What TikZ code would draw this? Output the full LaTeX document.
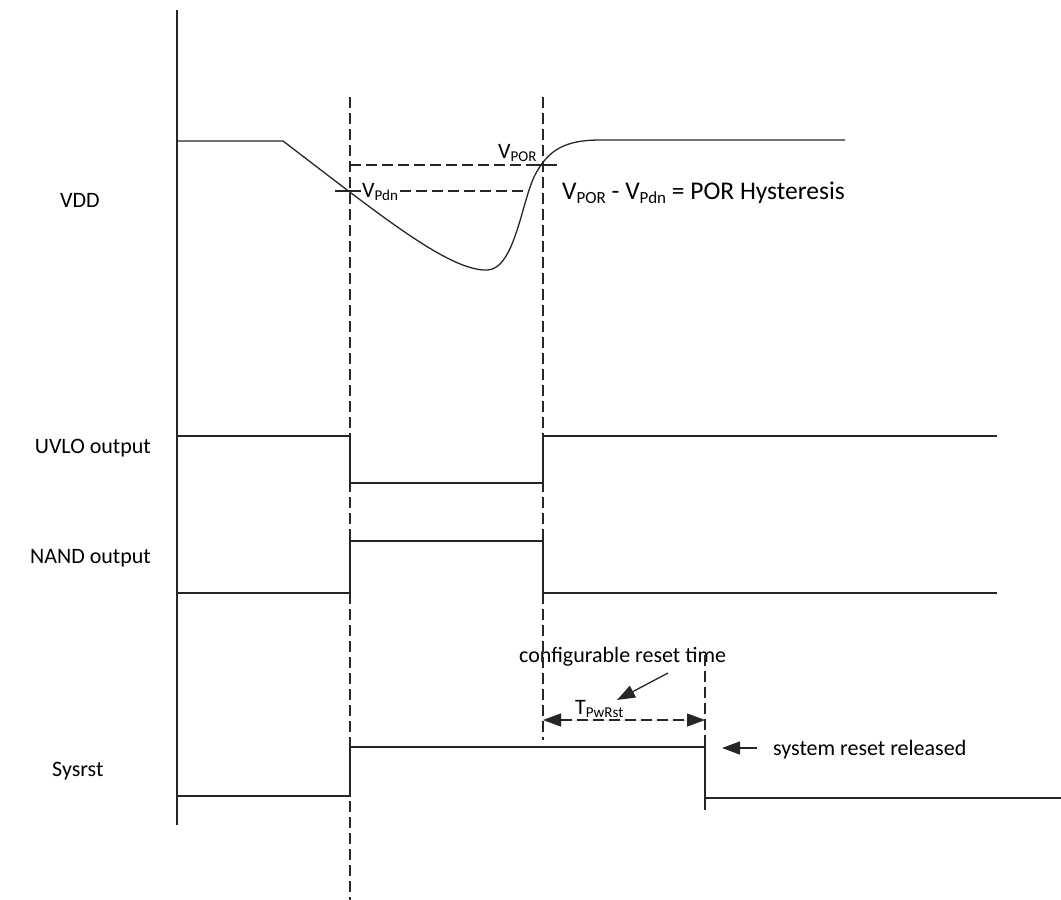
\documentclass[tikz,border=0pt]{standalone}
\usepackage{fontspec}
\setmainfont{Carlito}
\usetikzlibrary{arrows.meta}
\newcommand{\mysub}[1]{\raisebox{-0.35ex}{\fontsize{15}{15}\selectfont #1}}
\newcommand{\mysubb}[1]{\raisebox{-0.35ex}{\fontsize{17}{17}\selectfont #1}}
\begin{document}
\begin{tikzpicture}[x=1pt,y=-1pt,
  wave/.style={line width=1.3pt, draw=black!85},
  guide/.style={line width=1.3pt, dash pattern=on 11pt off 5pt, draw=black!85},
  lbl/.style={font=\fontsize{22}{26}\selectfont, inner sep=0pt},
  big/.style={font=\fontsize{25.5}{30}\selectfont, inner sep=0pt},
  tip/.style={-{Triangle[length=18pt,width=13pt]}, line width=1.3pt, draw=black!85, fill=black!85}]
\useasboundingbox (0,0) rectangle (1061,900);

% signal names
\node[lbl,anchor=base west] (vdd) at (60,207) {VDD};
\node[lbl,anchor=base east] (uvlo) at (151,453) {UVLO output};
\node[lbl,anchor=base east] (nand) at (151,563) {NAND output};
\node[lbl,anchor=base west] (sysrst) at (52,776) {Sysrst};

% annotations
\node[lbl,anchor=base west] (vpor) at (498,158) {V\mysub{POR}};
\node[lbl,anchor=base west] (vpdn) at (362,197) {V\mysub{Pdn}};
\node[big,anchor=base west] (hyst) at (562,199) {V\mysubb{POR} - V\mysubb{Pdn} = POR Hysteresis};
\node[lbl,anchor=base west] (tpw) at (575,714) {T\mysub{PwRst}};
\node[lbl,anchor=base west] (conf) at (519,662) {configurable reset time};
\node[lbl,anchor=base west] (rel) at (773,755) {system reset released};

% axis
\coordinate (axtop) at (177,10);
\coordinate (axbot) at (177,825);
\draw[wave] (axtop) -- (axbot);

% guides
\coordinate (g1t) at (350,97);  \coordinate (g1b) at (350,900);
\coordinate (g2t) at (543,97);  \coordinate (g2b) at (543,740);
\coordinate (g3t) at (705,655); \coordinate (g3b) at (705,812);
\draw[guide] (g1t) -- (g1b);
\draw[guide] (g2t) -- (g2b);
\draw[guide] (g3t) -- (g3b);

% threshold lines
\draw[guide] (350,165) -- (534,165);
\draw[wave] (532,165) -- (557,165);
\draw[wave] (335,191) -- (361,191);
\draw[guide] (400,191) -- (528,191);

% VDD
\draw[wave] (177,141) -- (283,141)
  .. controls (380,215) and (450,272) .. (488,270)
  .. controls (515,268) and (522,200) .. (535,175)
  .. controls (548,150) and (565,140) .. (600,140) -- (845,140);

% UVLO
\draw[wave] (177,436) -- (350,436) -- (350,483) -- (543,483) -- (543,436) -- (997,436);
% NAND
\draw[wave] (177,593) -- (350,593) -- (350,541) -- (543,541) -- (543,593) -- (997,593);
% Sysrst
\draw[wave] (177,796) -- (350,796) -- (350,747) -- (705,747) -- (705,798) -- (1061,798);

% TPwRst dimension
\coordinate (da) at (543,720);
\coordinate (db) at (705,720);
\draw[guide, {Triangle[length=18pt,width=13pt]}-{Triangle[length=18pt,width=13pt]}, fill=black!85] (da) -- (db);

% arrows
\coordinate (c1) at (668,673);
\coordinate (c2) at (617,700);
\draw[tip] (c1) -- (c2);
\coordinate (r1) at (757,748);
\coordinate (r2) at (722,748);
\draw[tip] (r1) -- (r2);
\end{tikzpicture}
\end{document}
